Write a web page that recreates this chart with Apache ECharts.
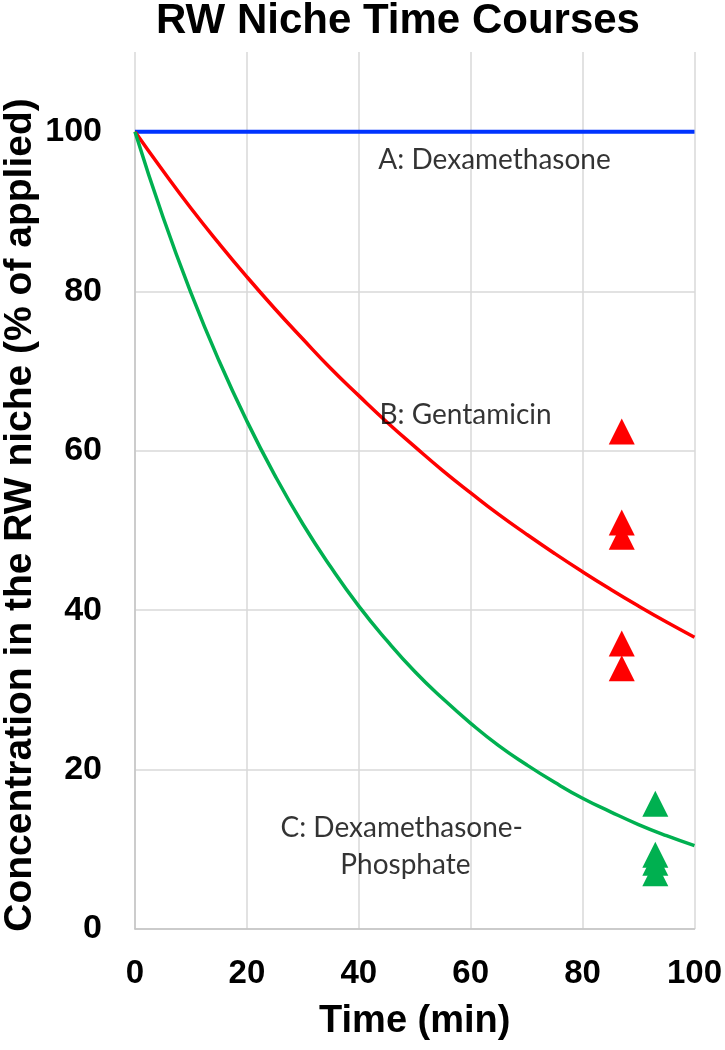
<!DOCTYPE html>
<html>
<head>
<meta charset="utf-8">
<script src="https://cdn.jsdelivr.net/npm/echarts@6/dist/echarts.min.js"></script>
<style>
html,body{margin:0;padding:0;background:#fff;}
#chart{width:725px;height:1050px;}
</style>
</head>
<body>
<div id="chart"></div>
<script>
// ---- data ----
var timeMin = [0,5,10,15,20,25,30,35,40,45,50,55,60,65,70,75,80,85,90,95,100];
var dexamethasone = [100,100,100,100,100,100,100,100,100,100,100,100,100,100,100,100,100,100,100,100,100];
var gentamicin = [100,95.1,90.4,86.0,81.8,77.8,74.0,70.3,66.9,63.6,60.5,57.5,54.7,52.0,49.5,47.1,44.8,42.6,40.5,38.5,36.6];
var dexPhosphate = [100,89.3,79.8,71.3,63.7,56.9,50.8,45.4,40.5,36.2,32.3,28.9,25.8,23.0,20.6,18.4,16.4,14.7,13.1,11.7,10.45];
var gentaMeasured = [[87,62.4],[87,51.0],[87,49.2],[87,35.8],[87,32.7]];
var dexPhosMeasured = [[93,15.7],[93,9.3],[93,8.3],[93,7.0]];
var xTicks = [0,20,40,60,80,100];
var yTicks = [0,20,40,60,80,100];
var annotations = [
  {name:'A: Dexamethasone', value:[43.5,96.5]},
  {name:'B: Gentamicin', value:[43.7,64.5]},
  {name:'C: Dexamethasone-', value:[26,12.7]},
  {name:'Phosphate', value:[36.7,8.0]}
];

function pairs(xs, ys){ return xs.map(function(x,i){return [x, ys[i]];}); }

var chart = echarts.init(document.getElementById('chart'), null, {renderer:'canvas'});
var gridCol = '#d9d9d9';
var axisCol = '#c4c4c4';
var boldFont = 'Liberation Sans';

var option = {
  animation:false,
  backgroundColor:'#fff',
  title:{
    text:'RW Niche Time Courses',
    left:393, top:-5, textAlign:'center',
    textStyle:{fontFamily:boldFont, fontWeight:'bold', fontSize:42, color:'#000'}
  },
  grid:[
    {left:135, right:30, top:52, bottom:121},
    {left:135, right:30, top:132, bottom:121}
  ],
  xAxis:[
    {gridIndex:0, type:'value', min:0, max:100, interval:20,
     axisLine:{show:true, lineStyle:{color:axisCol, width:1.5}},
     axisTick:{show:false},
     splitLine:{show:true, lineStyle:{color:gridCol, width:1.5}},
     axisLabel:{margin:28, fontFamily:boldFont, fontWeight:'bold', fontSize:33, color:'#000',
       formatter:function(v){return xTicks.indexOf(v)>=0 ? String(v) : '';}},
     name:'Time (min)', nameLocation:'middle', nameGap:74,
     nameTextStyle:{fontFamily:boldFont, fontWeight:'bold', fontSize:38, color:'#000'}
    },
    {gridIndex:1, type:'value', min:0, max:100, show:false}
  ],
  yAxis:[
    {gridIndex:0, type:'value', min:0, max:110, show:false, splitLine:{show:false}},
    {gridIndex:1, type:'value', min:0, max:100, interval:20,
     axisLine:{show:true, lineStyle:{color:axisCol, width:1.5}},
     axisTick:{show:false},
     splitLine:{show:true, lineStyle:{color:gridCol, width:1.5}},
     axisLabel:{margin:33, fontFamily:boldFont, fontWeight:'bold', fontSize:34, color:'#000',
       formatter:function(v){return yTicks.indexOf(v)>=0 ? String(v) : '';}}
    }
  ],
  graphic:[
    {type:'text', x:20, y:515, rotation:Math.PI/2,
     style:{text:'Concentration in the RW niche (% of applied)', fontFamily:boldFont, fontWeight:'bold',
       fontSize:39, fill:'#000', align:'center', verticalAlign:'middle'}}
  ],
  series:[
    {type:'line', xAxisIndex:0, yAxisIndex:0, data:pairs(timeMin, dexamethasone), showSymbol:false, clip:false,
     lineStyle:{color:'#0033ff', width:4}, z:3},
    {type:'line', xAxisIndex:0, yAxisIndex:0, data:pairs(timeMin, gentamicin), showSymbol:false, smooth:true, clip:false,
     lineStyle:{color:'#ff0000', width:3.5}, z:3},
    {type:'line', xAxisIndex:0, yAxisIndex:0, data:pairs(timeMin, dexPhosphate), showSymbol:false, smooth:true, clip:false,
     lineStyle:{color:'#00b050', width:3.5}, z:3},
    {type:'scatter', xAxisIndex:0, yAxisIndex:0, data:gentaMeasured, symbol:'triangle', symbolSize:26,
     itemStyle:{color:'#ff0000', opacity:1}, z:4},
    {type:'scatter', xAxisIndex:0, yAxisIndex:0, data:dexPhosMeasured, symbol:'triangle', symbolSize:26,
     itemStyle:{color:'#00b050', opacity:1}, z:4},
    {type:'scatter', xAxisIndex:0, yAxisIndex:0, data:annotations, symbolSize:0, silent:true, z:5,
     label:{show:true, position:'right', distance:0, formatter:'{b}',
       fontFamily:'Lato', fontSize:28, color:'#000'}}
  ]
};
chart.setOption(option);
</script>
</body>
</html>
